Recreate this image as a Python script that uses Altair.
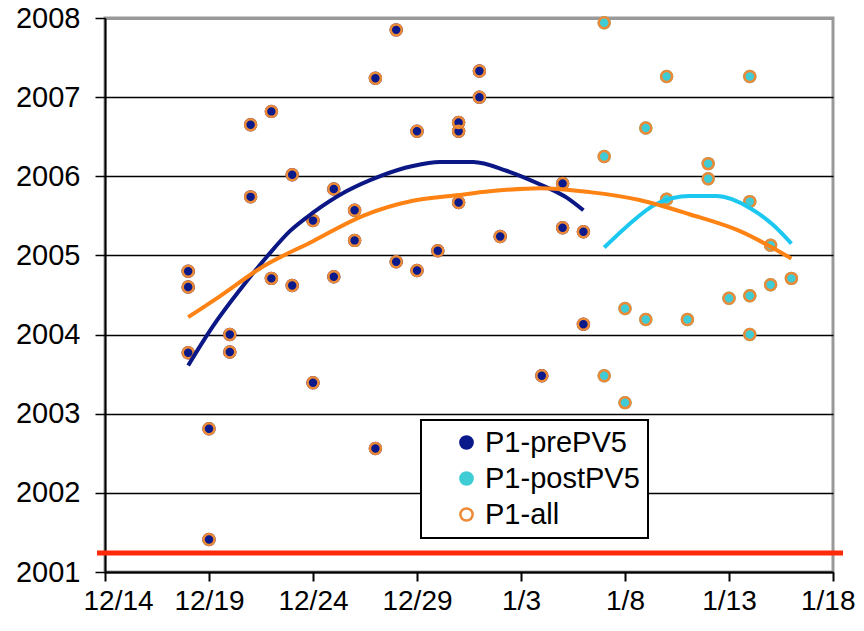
import altair as alt
import pandas as pd

# ---------------- data ----------------
pre_dates = ["2007-12-18", "2007-12-18", "2007-12-18", "2007-12-19", "2007-12-19",
             "2007-12-20", "2007-12-20", "2007-12-21", "2007-12-21", "2007-12-22",
             "2007-12-22", "2007-12-23", "2007-12-23", "2007-12-24", "2007-12-24",
             "2007-12-25", "2007-12-25", "2007-12-26", "2007-12-26", "2007-12-27",
             "2007-12-27", "2007-12-28", "2007-12-28", "2007-12-29", "2007-12-29",
             "2007-12-30", "2007-12-31", "2007-12-31", "2007-12-31", "2008-01-01",
             "2008-01-01", "2008-01-02", "2008-01-04", "2008-01-05", "2008-01-05",
             "2008-01-06", "2008-01-06"]
pre_values = [2004.80, 2004.60, 2003.77, 2002.81, 2001.41,
              2004.00, 2003.78, 2006.65, 2005.74, 2006.82,
              2004.71, 2006.02, 2004.62, 2005.44, 2003.39,
              2005.84, 2004.73, 2005.57, 2005.19, 2007.24,
              2002.56, 2007.85, 2004.92, 2006.57, 2004.81,
              2005.06, 2006.68, 2006.57, 2005.67, 2007.33,
              2007.00, 2005.24, 2003.48, 2005.91, 2005.35,
              2005.30, 2004.13]

post_dates = ["2008-01-07", "2008-01-07", "2008-01-07", "2008-01-08", "2008-01-08",
              "2008-01-09", "2008-01-09", "2008-01-10", "2008-01-10", "2008-01-11",
              "2008-01-12", "2008-01-12", "2008-01-13", "2008-01-14", "2008-01-14",
              "2008-01-14", "2008-01-14", "2008-01-15", "2008-01-15", "2008-01-16"]
post_values = [2007.94, 2006.25, 2003.48, 2004.33, 2003.14,
               2006.61, 2004.19, 2007.26, 2005.71, 2004.19,
               2006.16, 2005.97, 2004.46, 2007.26, 2005.68,
               2004.49, 2004.00, 2005.13, 2004.63, 2004.71]

# trend lines (days after 12/14, value)
trend_origin = "2007-12-14"
pre_trend_days = [4.0, 5.2, 6.5, 7.8, 8.9, 10.0, 11.6, 13.2, 14.8, 16.1, 17.7, 19.3, 20.9, 22.2, 23.0]
pre_trend_values = [2003.61, 2004.11, 2004.57, 2004.99, 2005.31, 2005.54, 2005.81, 2006.00,
                    2006.13, 2006.18, 2006.18, 2006.07, 2005.90, 2005.73, 2005.57]
post_trend_days = [24.0, 25.1, 26.5, 28.1, 29.4, 31.0, 32.1, 33.0]
post_trend_values = [2005.10, 2005.37, 2005.65, 2005.75, 2005.75, 2005.60, 2005.39, 2005.15]
all_trend_days = [4.0, 5.5, 7.6, 10.0, 12.4, 14.8, 16.9, 18.5, 20.9, 23.3, 25.7, 28.1, 30.5, 33.0]
all_trend_values = [2004.22, 2004.48, 2004.86, 2005.18, 2005.50, 2005.69, 2005.76, 2005.81,
                    2005.85, 2005.80, 2005.70, 2005.52, 2005.31, 2004.96]

series_names = ["P1-prePV5", "P1-postPV5", "P1-all"]
threshold = 2001.24
y_ticks = [2001, 2002, 2003, 2004, 2005, 2006, 2007, 2008]
x_tick_dates = [(2007, 12, 14), (2007, 12, 19), (2007, 12, 24), (2007, 12, 29),
                (2008, 1, 3), (2008, 1, 8), (2008, 1, 13), (2008, 1, 18)]

# ---------------- styles ----------------
NAVY = "#0B1A8A"
CYAN = "#40CCD4"
RING = "#EE8A35"
NAVY_LINE = "#0B1784"
CYAN_LINE = "#1CC8F0"
ORANGE_LINE = "#FF8214"
RED = "#FF2A0A"
FONT = "Liberation Sans"
PAD = "\u00a0\u00a0\u2009"

rows = []
for d, v in zip(pre_dates, pre_values):
    rows.append({"date": d + "T00:00", "value": v, "series": series_names[0], "ord": 0})
for d, v in zip(post_dates, post_values):
    rows.append({"date": d + "T00:00", "value": v, "series": series_names[1], "ord": 0})
for d, v in zip(pre_dates + post_dates, pre_values + post_values):
    rows.append({"date": d + "T00:00", "value": v, "series": series_names[2], "ord": 1})
df = pd.DataFrame(rows)

origin = pd.Timestamp(trend_origin)
trows = []
for name, days, vals in [(series_names[0], pre_trend_days, pre_trend_values),
                         (series_names[1], post_trend_days, post_trend_values),
                         (series_names[2], all_trend_days, all_trend_values)]:
    for d, v in zip(days, vals):
        ts = origin + pd.to_timedelta(d, unit="D")
        trows.append({"date": ts.strftime("%Y-%m-%dT%H:%M"), "value": v, "series": name})
trend_df = pd.DataFrame(trows)

x_ticks = [alt.DateTime(year=y, month=m, date=d) for (y, m, d) in x_tick_dates]

x_enc = alt.X(
    "t:T",
    title=None,
    scale=alt.Scale(domain=[x_ticks[0], x_ticks[-1]], nice=False),
    axis=alt.Axis(values=x_ticks, format="%-m/%-d", formatType="time",
                  grid=False, domainColor="black", domainWidth=2,
                  tickColor="black", tickSize=9, tickWidth=2,
                  labelFont=FONT, labelFontSize=28, labelColor="black",
                  labelPadding=6, labelFlush=1, labelFlushOffset=22,
                  labelOverlap=False),
)
y_enc = alt.Y(
    "value:Q",
    title=None,
    scale=alt.Scale(domain=[y_ticks[0], y_ticks[-1]], nice=False, zero=False),
    axis=alt.Axis(values=y_ticks, format="d",
                  grid=True,
                  gridColor=alt.condition("datum.value == 2008", alt.value("#999999"), alt.value("black")),
                  gridWidth=alt.condition("datum.value == 2008", alt.value(3), alt.value(1.5)),
                  domainColor="black", domainWidth=2,
                  tickColor="black", tickSize=10, tickWidth=1.5,
                  labelFont=FONT, labelFontSize=29, labelColor="black",
                  labelPadding=15, labelFlush=False, labelOverlap=False),
)

leg = alt.Legend(
    title=None, orient="none", legendX=316, legendY=402,
    fillColor="white", strokeColor="black",
    padding=8, rowPadding=6, symbolOffset=23, labelOffset=4,
    symbolType="circle", symbolSize=150, symbolStrokeWidth=2.5,
    symbolOpacity=1, labelLimit=400,
    labelFont=FONT, labelFontSize=29, labelColor="black",
    labelExpr="datum.label + '" + PAD + "'",
)

base = alt.Chart(df).transform_calculate(t="time(datum.date)")

points = base.mark_point(shape="circle", filled=True, opacity=1, size=120, strokeWidth=2.5).encode(
    x=x_enc,
    y=y_enc,
    fill=alt.Fill("series:N", scale=alt.Scale(domain=series_names, range=[NAVY, CYAN, "transparent"]), legend=leg),
    stroke=alt.Stroke("series:N", scale=alt.Scale(domain=series_names, range=[NAVY, CYAN, RING]), legend=leg),
    order=alt.Order("ord:Q"),
)

tbase = alt.Chart(trend_df).transform_calculate(t="time(datum.date)")


def trend(name, color):
    return (
        tbase.transform_filter(alt.datum.series == name)
        .mark_line(color=color, strokeWidth=4, interpolate="monotone")
        .encode(x=alt.X("t:T"), y=alt.Y("value:Q"), order=alt.Order("t:Q"))
    )


red_rule = alt.Chart(pd.DataFrame({"value": [threshold]})).mark_rule(
    color=RED, strokeWidth=5
).encode(y=alt.Y("value:Q"), x=alt.value(-8), x2=alt.value(738))

chart = (
    alt.layer(red_rule, points, trend(series_names[0], NAVY_LINE),
              trend(series_names[1], CYAN_LINE), trend(series_names[2], ORANGE_LINE))
    .properties(width=728, height=554,
                padding={"left": 97, "top": 10, "right": 23, "bottom": 47},
                autosize=alt.AutoSizeParams(type="none"),
                background="white")
    .configure_view(stroke="#999999", strokeWidth=3)
    .configure_legend(strokeWidth=2)
)

chart.save("out.html", embed_options={"renderer": "svg", "actions": False})
